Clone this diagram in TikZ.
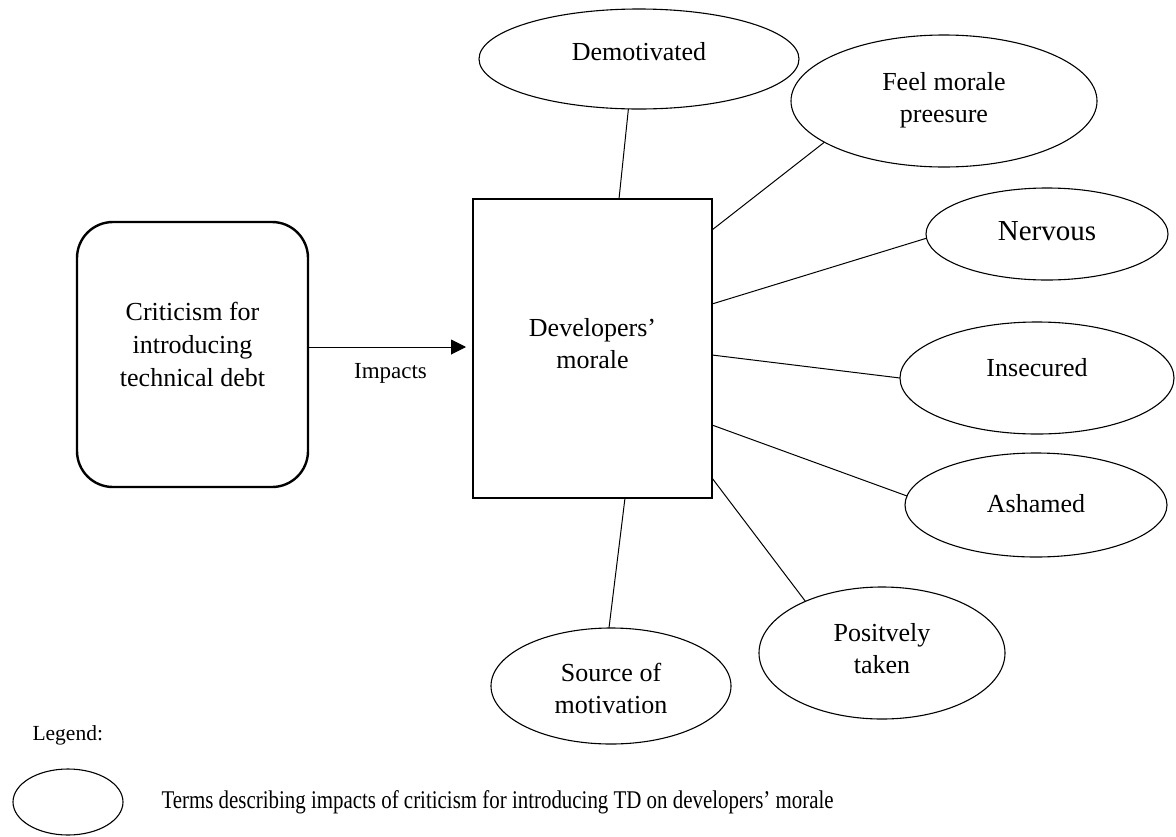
\documentclass[tikz,border=0pt]{standalone}
\usepackage{fontspec}
\setmainfont{Liberation Serif}
\newfontfamily\narrowserif[FakeStretch=0.82]{Liberation Serif}
\usetikzlibrary{arrows.meta,shapes.geometric}

\tikzset{
  termfont/.style={font=\fontsize{26}{32}\selectfont},
  term/.style={ellipse, draw, line width=1.1pt, inner sep=0pt, outer sep=0pt,
    align=center, termfont, text height=18pt},
  causebox/.style={rectangle, draw, rounded corners=36pt, line width=2.4pt,
    inner sep=0pt, outer sep=0pt, align=center,
    font=\fontsize{26}{33}\selectfont},
  moralebox/.style={rectangle, draw, line width=2.6pt, inner sep=0pt,
    outer sep=0pt, align=center, termfont},
  link/.style={line width=1pt},
  impactarrow/.style={line width=1pt, -{Triangle[length=15pt,width=15pt]}},
}

\begin{document}
\begin{tikzpicture}[x=1pt, y=-1pt]
\useasboundingbox (0,0) rectangle (1176,836);

% cause and central concept (multi-line text: baseline is the last line)
\node[causebox, minimum width=231pt, minimum height=265pt,
  text height=63pt, text depth=0pt]
  (crit) at (192.5,354.5) {Criticism for\\introducing\\technical debt};
\node[moralebox, minimum width=239pt, minimum height=299pt,
  text height=39pt, text depth=0pt]
  (dev) at (592.5,348.5) {Developers’\\morale};

% impact terms
\node[term, minimum width=320pt, minimum height=100pt, text depth=16pt]
  (dem) at (639,59) {Demotivated};
\node[term, minimum width=306pt, minimum height=132pt,
  text height=42pt, text depth=0pt]
  (feel) at (944,101) {Feel morale\\preesure};
\node[term, minimum width=242pt, minimum height=92pt, text height=20pt,
  text depth=8pt, font=\fontsize{29}{34}\selectfont]
  (nerv) at (1047,234) {Nervous};
\node[term, minimum width=274pt, minimum height=112pt, text depth=22pt]
  (insec) at (1037,378) {Insecured};
\node[term, minimum width=262pt, minimum height=104pt, text depth=4pt]
  (asham) at (1036,505) {Ashamed};
\node[term, minimum width=246pt, minimum height=132pt,
  text height=40pt, text depth=0pt]
  (pos) at (882,653) {Positvely\\taken};
\node[term, minimum width=240pt, minimum height=116pt,
  text height=54pt, text depth=0pt]
  (src) at (611,686) {Source of\\motivation};

% cause -> morale
\coordinate (arrstart) at ([yshift=7.5pt]crit.east);
\draw[impactarrow, shorten >=7pt] (arrstart) -- (arrstart -| dev.west)
  node[pos=0.5, anchor=base, yshift=-31pt, font=\fontsize{23}{28}\selectfont]
  (impacts) {Impacts};

% morale -- terms
\draw[link] ([xshift=26.5pt]dev.north) -- (dem.258);
\draw[link] ([yshift=118.5pt]dev.east) -- (feel.199);
\draw[link] ([yshift=44.5pt]dev.east) -- (nerv.182);
\draw[link] ([yshift=-6.5pt]dev.east) -- (insec.180);
\draw[link] ([yshift=-76.5pt]dev.east) -- (asham.176);
\draw[link] ([yshift=-129.5pt]dev.east) -- (pos.146);
\draw[link] ([xshift=32.5pt]dev.south) -- (src.92);

% legend
\node[anchor=base west, font=\fontsize{21.5}{26}\selectfont]
  (legendtitle) at (29,740) {Legend:};
\node[ellipse, draw, line width=1.1pt, inner sep=0pt,
  minimum width=110pt, minimum height=66pt] (legendshape) at (68,802) {};
\node[anchor=base west, font=\narrowserif\fontsize{25.5}{30}\selectfont]
  (legendtext) at (158,808)
  {Terms describing impacts of criticism for introducing TD on developers’ morale};
\end{tikzpicture}
\end{document}
